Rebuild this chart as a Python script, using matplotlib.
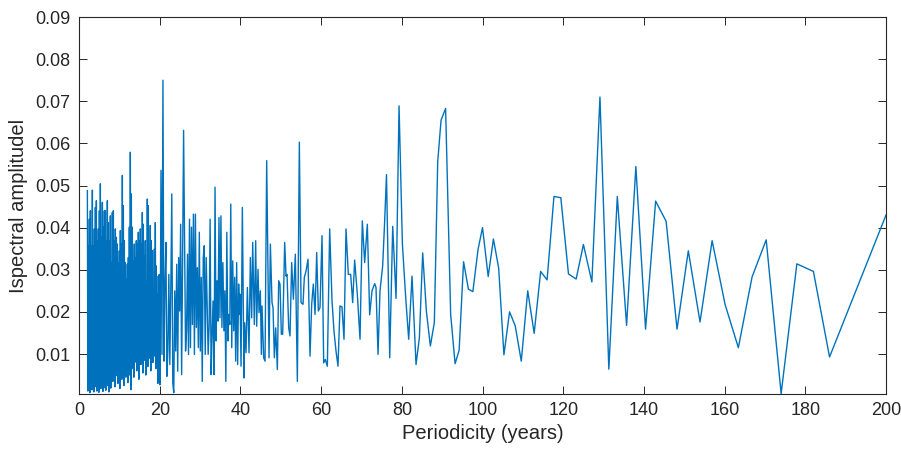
import numpy as np
import matplotlib
matplotlib.use('Agg')
import matplotlib.pyplot as plt

plt.rcParams['font.family'] = ['Liberation Sans', 'DejaVu Sans']

# dense part, 2-20 years: upper and lower strokes
band_high = [0.0488, 0.0357, 0.0420, 0.0440, 0.0357, 0.0489, 0.0357, 0.0397, 0.0448, 0.0464,
             0.0369, 0.0397, 0.0440, 0.0504, 0.0377, 0.0460, 0.0401, 0.0440, 0.0440, 0.0369,
             0.0464, 0.0412, 0.0369, 0.0428, 0.0317, 0.0436, 0.0440, 0.0369, 0.0397, 0.0377,
             0.0361, 0.0317, 0.0345, 0.0393, 0.0361, 0.0524, 0.0452, 0.0369, 0.0317, 0.0278,
             0.0313, 0.0329, 0.0401, 0.0579, 0.0480, 0.0401, 0.0321, 0.0361, 0.0329, 0.0369,
             0.0361, 0.0389, 0.0369, 0.0397, 0.0361, 0.0436, 0.0408, 0.0333, 0.0369, 0.0274,
             0.0468, 0.0452, 0.0274, 0.0405, 0.0369, 0.0345, 0.0242, 0.0349, 0.0412, 0.0309,
             0.0242, 0.0285, 0.0289]
band_low = [0.0012, 0.0030, 0.0008, 0.0025, 0.0015, 0.0040, 0.0010, 0.0022, 0.0035, 0.0012,
            0.0028, 0.0009, 0.0045, 0.0018, 0.0030, 0.0011, 0.0038, 0.0020, 0.0014, 0.0042,
            0.0025, 0.0010, 0.0033, 0.0019, 0.0050, 0.0035, 0.0060, 0.0022, 0.0048, 0.0075,
            0.0030, 0.0055, 0.0018, 0.0068, 0.0040, 0.0085, 0.0025, 0.0060, 0.0045, 0.0090,
            0.0032, 0.0070, 0.0050, 0.0015, 0.0065, 0.0100, 0.0045, 0.0080, 0.0120, 0.0060,
            0.0095, 0.0040, 0.0130, 0.0075, 0.0105, 0.0055, 0.0140, 0.0085, 0.0050, 0.0115,
            0.0070, 0.0135, 0.0090, 0.0060, 0.0125, 0.0080, 0.0150, 0.0095, 0.0065, 0.0110,
            0.0030, 0.0120, 0.0085]

# 20-40 years, strokes read left to right
mid_amp = [0.0027, 0.0536, 0.0099, 0.0750, 0.0083, 0.0258, 0.0365, 0.0047, 0.0107, 0.0289,
           0.0075, 0.0258, 0.0480, 0.0031, 0.0008, 0.0250, 0.0107, 0.0313, 0.0059, 0.0329,
           0.0202, 0.0408, 0.0051, 0.0325, 0.0631, 0.0365, 0.0107, 0.0155, 0.0337, 0.0099,
           0.0420, 0.0115, 0.0401, 0.0170, 0.0432, 0.0099, 0.0432, 0.0163, 0.0305, 0.0115,
           0.0389, 0.0107, 0.0282, 0.0035, 0.0329, 0.0357, 0.0099, 0.0329, 0.0210, 0.0099,
           0.0166, 0.0420, 0.0051, 0.0147, 0.0226, 0.0051, 0.0496, 0.0131, 0.0274, 0.0178,
           0.0424, 0.0186, 0.0428, 0.0163, 0.0317, 0.0155, 0.0250, 0.0035, 0.0389, 0.0131,
           0.0194, 0.0170, 0.0456, 0.0115, 0.0321, 0.0155, 0.0282, 0.0083, 0.0317, 0.0075,
           0.0266, 0.0194]

# sparse part, > 40 years
period = [39.90, 40.15, 40.48, 40.89, 41.06, 41.39, 41.72, 42.13, 42.46, 42.79,
          43.04, 43.45, 43.78, 44.03, 44.36, 44.61, 44.94, 45.19, 45.35, 45.76,
          46.10, 46.51, 47.09, 47.42, 47.83, 48.08, 48.41, 48.74, 49.15, 49.48,
          49.81, 50.14, 50.47, 50.97, 51.30, 51.55, 51.96, 52.29, 52.70, 53.12,
          53.61, 54.11, 54.60, 55.02, 55.51, 55.84, 56.26, 56.75, 57.25, 57.66,
          58.07, 58.49, 58.90, 59.31, 59.72, 60.22, 60.63, 61.04, 61.54, 62.12,
          62.70, 63.19, 63.69, 64.18, 64.68, 65.17, 65.67, 66.17, 66.74, 67.32,
          67.82, 68.31, 68.97, 69.64, 70.21, 70.79, 71.45, 72.03, 72.61, 73.27,
          73.60, 74.10, 74.59, 75.25, 75.75, 76.20, 77.00, 77.74, 78.57, 79.31,
          80.14, 80.96, 81.70, 82.53, 83.52, 84.35, 85.17, 86.08, 87.07, 88.06,
          88.89, 89.72, 90.85, 92.1, 93.2, 94.2, 95.3, 96.5, 97.6, 98.9,
          100.0, 101.4, 102.7, 104.0, 105.3, 106.7, 108.1, 109.6, 111.2, 112.8,
          114.4, 116.0, 117.7, 119.4, 121.3, 123.2, 125.0, 127.1, 129.1, 131.3,
          133.4, 135.7, 138.0, 140.4, 142.9, 145.5, 148.2, 151.0, 153.9, 156.9,
          160.1, 163.4, 166.8, 170.3, 174.0, 177.9, 182.0, 186.0, 200.0]
amplitude = [0.0242, 0.0071, 0.0448, 0.0043, 0.0174, 0.0103, 0.0258, 0.0103, 0.0329, 0.0186,
             0.0365, 0.0170, 0.0369, 0.0166, 0.0301, 0.0198, 0.0250, 0.0099, 0.0214, 0.0091,
             0.0083, 0.0559, 0.0091, 0.0361, 0.0222, 0.0210, 0.0091, 0.0162, 0.0063, 0.0274,
             0.0266, 0.0147, 0.0147, 0.0365, 0.0285, 0.0289, 0.0162, 0.0143, 0.0317, 0.0230,
             0.0337, 0.0035, 0.0603, 0.0222, 0.0218, 0.0282, 0.0297, 0.0325, 0.0095, 0.0218,
             0.0266, 0.0194, 0.0341, 0.0202, 0.0210, 0.0381, 0.0079, 0.0087, 0.0071, 0.0397,
             0.0226, 0.0154, 0.0107, 0.0071, 0.0214, 0.0212, 0.0135, 0.0397, 0.0289, 0.0289,
             0.0222, 0.0323, 0.0242, 0.0135, 0.0416, 0.0317, 0.0408, 0.0193, 0.0250, 0.0267,
             0.0258, 0.0099, 0.0250, 0.0309, 0.0416, 0.0526, 0.0091, 0.0403, 0.0232, 0.0689,
             0.0361, 0.0234, 0.0135, 0.0285, 0.0075, 0.0139, 0.0340, 0.0202, 0.0119, 0.0175,
             0.0556, 0.0655, 0.0683, 0.0194, 0.0077, 0.0109, 0.0319, 0.0254, 0.0248, 0.0349,
             0.0400, 0.0284, 0.0373, 0.0304, 0.0098, 0.0200, 0.0167, 0.0083, 0.0250, 0.0149,
             0.0296, 0.0276, 0.0474, 0.0471, 0.0290, 0.0278, 0.0360, 0.0271, 0.0710, 0.0064,
             0.0474, 0.0168, 0.0545, 0.0159, 0.0463, 0.0415, 0.0159, 0.0345, 0.0176, 0.0369,
             0.0218, 0.0115, 0.0283, 0.0371, 0.0006, 0.0314, 0.0296, 0.0093, 0.0430]

# put the series together
hx = np.linspace(2.07, 19.9, len(band_high))
step = hx[1] - hx[0]
lx = hx + step / 2
bx = np.empty(2 * len(hx))
by = np.empty(2 * len(hx))
bx[0::2], bx[1::2] = hx, lx
by[0::2], by[1::2] = band_high, band_low
mx = np.linspace(20.07, 39.8, len(mid_amp))

x = np.concatenate([bx, mx, period])
y = np.concatenate([by, mid_amp, amplitude])

fig = plt.figure(figsize=(9.01, 4.5), dpi=100)
ax = fig.add_axes([0.0877, 0.1244, 0.8957, 0.8378])
ax.plot(x, y, color='#0072BD', linewidth=1.0)

ax.set_xlim(0, 200)
ax.set_ylim(0.0005, 0.09)
ax.set_xticks(np.arange(0, 201, 20))
ax.set_yticks([0.01, 0.02, 0.03, 0.04, 0.05, 0.06, 0.07, 0.08, 0.09])
ax.set_yticklabels(['0.01', '0.02', '0.03', '0.04', '0.05', '0.06', '0.07', '0.08', '0.09'])
ax.tick_params(direction='in', length=6, width=0.7, colors='#262626', labelsize=13,
               top=True, right=True, pad=6)
for s in ax.spines.values():
    s.set_color('#262626')
    s.set_linewidth(0.8)

ax.set_xlabel('Periodicity (years)', fontsize=14.5, color='#262626', labelpad=3)
ax.set_ylabel('Ispectral amplitudel', fontsize=14.5, color='#262626', labelpad=5)

fig.savefig('out.png', dpi=100)
